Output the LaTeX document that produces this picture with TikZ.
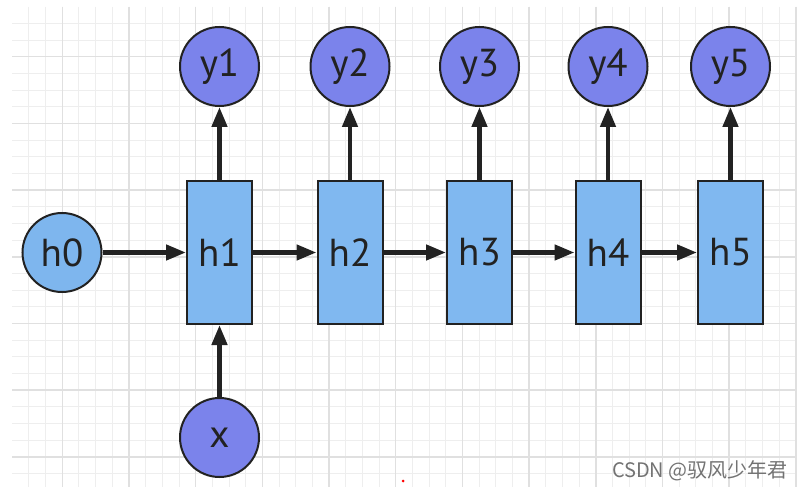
\documentclass[tikz,border=0pt]{standalone}
\usepackage{fontspec}
\setmainfont{PT Sans}
\newfontfamily\cjkfont{Noto Sans CJK SC}
\usetikzlibrary{arrows.meta}

\definecolor{cellblue}{HTML}{80B8F0}
\definecolor{stateblue}{HTML}{7EB6EE}
\definecolor{outpurple}{HTML}{7B83EB}
\definecolor{inkdark}{HTML}{222222}
\definecolor{gridminor}{HTML}{EEEEEE}
\definecolor{gridmajor}{HTML}{E0E0E0}

\begin{document}
\begin{tikzpicture}[x=1pt,y=-1pt]
        \tikzstyle{cell}=[draw=inkdark, line width=2pt, fill=cellblue, minimum width=65pt, minimum height=143pt, inner sep=0pt, text=inkdark, font=\fontsize{39}{40}\selectfont]
        \tikzstyle{ball}=[circle, draw=inkdark, line width=2pt, minimum size=79pt, inner sep=0pt, text=inkdark, font=\fontsize{39}{40}\selectfont]
        \tikzstyle{flow}=[draw=inkdark, line width=4.5pt, -{Triangle[length=20pt,width=15pt]}]

        % Page and background
        \useasboundingbox (0,0) rectangle (801,492);
        \fill[white] (0,0) rectangle (801,492);

        % Draw grid
        \foreach \i in {1,...,47} {
            \draw[gridminor, line width=1pt] ({12.3+16.67*\i},6.7) -- ({12.3+16.67*\i},487);
        }
        \foreach \j in {1,...,28} {
            \draw[gridminor, line width=1pt] (12.3,{6.7+16.67*\j}) -- (797,{6.7+16.67*\j});
        }
        \foreach \i in {3,7,...,47} {
            \draw[gridmajor, line width=1.5pt] ({12.3+16.67*\i},6.7) -- ({12.3+16.67*\i},487);
        }
        \foreach \j in {3,7,...,27} {
            \draw[gridmajor, line width=1.5pt] (12.3,{6.7+16.67*\j}) -- (797,{6.7+16.67*\j});
        }

        % Hidden states and outputs
        \node[ball, fill=stateblue] (h0) at (62,252.5) {h0};
        \foreach \i/\xx in {1/219.5, 2/350, 3/479.5, 4/608, 5/730.5} {
            \node[cell] (h\i) at (\xx,252.5) {h\i};
            \node[ball, fill=outpurple] (y\i) at (\xx,66.5) {y\i};
        }
        \node[ball, fill=outpurple] (x) at (219.5,437.5) {x};

        % Add connectors
        \draw[flow] (h0) -- (h1);
        \draw[flow] (x) -- (h1);
        \foreach \i/\j in {1/2, 2/3, 3/4, 4/5} {
            \draw[flow] (h\i) -- (h\j);
        }
        \foreach \i in {1,...,5} {
            \draw[flow] (h\i) -- (y\i);
        }

        % Watermark
        \node[anchor=east, inner sep=0pt, text=gray!90!black, font=\cjkfont\fontsize{20}{22}\selectfont] (mark) at (788,471) {CSDN @驭风少年君};
        \fill[red] (403,481) circle (1.5pt);
    \end{tikzpicture}
\end{document}
